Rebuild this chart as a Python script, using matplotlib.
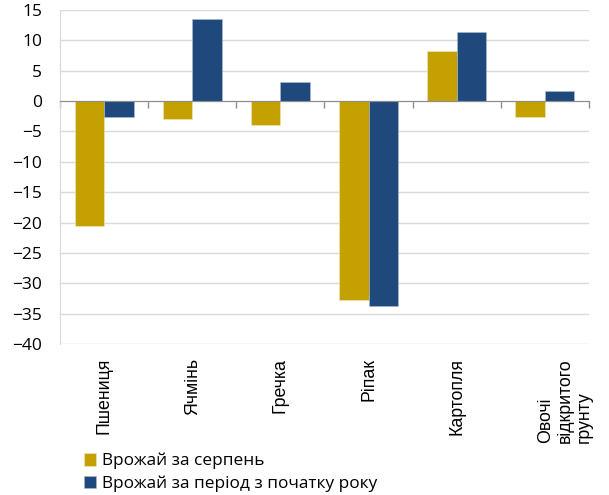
import numpy as np
import matplotlib
matplotlib.use('Agg')
import matplotlib.pyplot as plt
from matplotlib.transforms import offset_copy

# ===дані
categories = ['Пшениця', 'Ячмінь', 'Гречка', 'Ріпак', 'Картопля', 'Овочі\nвідкритого\nгрунту']
harvest_aug = [-20.6, -2.9, -4.0, -32.7, 8.2, -2.6]    # урожай за серпень
harvest_ytd = [-2.6, 13.5, 3.1, -33.8, 11.4, 1.6]      # урожай з початку року
series_names = ['Врожай за серпень', 'Врожай за період з початку року']
yticks = list(range(-40, 20, 5))

gold = '#C4A000'
navy = '#1F497D'

plt.rcParams['font.family'] = ['Open Sans', 'DejaVu Sans']

fig = plt.figure(figsize=(6.09, 4.95), dpi=100)
ax = fig.add_axes([0.0985, 0.305, 0.8685, 0.675])

x = np.arange(len(categories))
w = 0.335
b1 = ax.bar(x - w / 2, harvest_aug, w, color=gold, edgecolor='#f2e9c0', linewidth=0.4, zorder=3)
b2 = ax.bar(x + w / 2, harvest_ytd, w, color=navy, edgecolor='#a9bdd6', linewidth=0.4, zorder=3)

ax.set_xlim(-0.5, len(categories) - 0.5)
ax.set_ylim(-40, 15)
ax.set_yticks(yticks)
ax.tick_params(axis='y', length=0, pad=13, labelsize=12.5, labelcolor='black')
ax.yaxis.grid(True, color='#d9d9d9', linewidth=1, zorder=0)

# вісь x по нулю, поділки між категоріями
ax.spines['bottom'].set_position(('data', 0))
ax.spines['bottom'].set_color('#8c8c8c')
ax.spines['bottom'].set_zorder(4)
ax.spines['left'].set_color('#d9d9d9')
ax.spines['top'].set_visible(False)
ax.spines['right'].set_visible(False)
ax.set_xticks(np.arange(-0.5, len(categories), 1))
ax.set_xticklabels([])
ax.tick_params(axis='x', direction='out', length=5, color='#8c8c8c', width=1)

# підписи категорій під графіком
for i, name in enumerate(categories):
    if '\n' in name:
        tr = offset_copy(ax.get_xaxis_transform(), fig=fig, x=-8, y=0, units='dots')
        ax.text(i, -0.042, name, rotation=90, ha='left', va='top', transform=tr,
                family='Liberation Sans', fontsize=12.8, linespacing=1.2)
    else:
        ax.text(i, -0.042, name, rotation=90, ha='center', va='top',
                transform=ax.get_xaxis_transform(), family='Liberation Sans', fontsize=12.8)

fig.legend([b1, b2], series_names, loc='upper left', bbox_to_anchor=(0.138, 0.085),
           frameon=False, fontsize=12.4, handlelength=0.72, handleheight=0.72,
           handletextpad=0.3, labelspacing=0.35, borderaxespad=0, borderpad=0)

plt.savefig('out.png', dpi=100)
